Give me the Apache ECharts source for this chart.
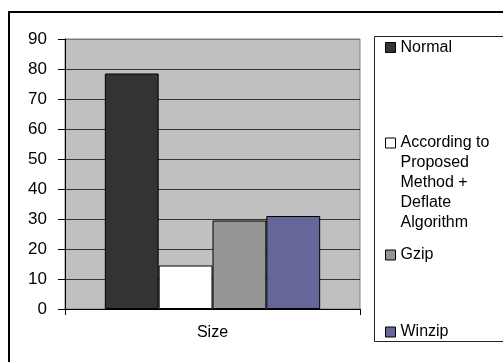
<!DOCTYPE html>
<html>
<head>
<meta charset="utf-8">
<script src="https://cdn.jsdelivr.net/npm/echarts@6/dist/echarts.min.js"></script>
<style>
  html, body { margin: 0; padding: 0; background: #fff; }
  #chart { width: 503px; height: 362px; }
</style>
</head>
<body>
<div id="chart"></div>
<script>
// Compressed size per method
const categories = ['Size'];
const seriesNames = ['Normal', 'According to Proposed Method + Deflate Algorithm', 'Gzip', 'Winzip'];
const sizeValues = [78.5, 14.5, 29.5, 31];
const seriesColors = ['#333333', '#ffffff', '#969696', '#666699'];
// leading blank lines keep the swatch beside the first line of a wrapped label
const legendLabels = ['Normal', '\n\n\n\nAccording to\nProposed\nMethod +\nDeflate\nAlgorithm', 'Gzip', 'Winzip'];
const yMin = 0, yMax = 90, yStep = 10;

const FONT = 'Arial, "Liberation Sans", sans-serif';
const chart = echarts.init(document.getElementById('chart'), null, { renderer: 'canvas' });

// one legend block per entry so each can sit at its own height
const legendTops = [37.5, 53, 245, 322];
const legends = seriesNames.map((name, i) => ({
  data: [name],
  orient: 'vertical',
  left: 385,
  top: legendTops[i],
  padding: 0,
  itemWidth: 10,
  itemHeight: 10,
  icon: 'rect',
  selectedMode: false,
  itemStyle: { borderColor: '#000', borderWidth: 1 },
  formatter: () => legendLabels[i],
  textStyle: {
    fontFamily: FONT,
    fontSize: 16,
    color: '#000',
    lineHeight: 20
  }
}));

const splitColors = [];
for (let v = yMin; v <= yMax; v += yStep) splitColors.push(v === yMax ? '#7a7a7a' : '#333333');

chart.setOption({
  animation: false,
  backgroundColor: '#ffffff',
  graphic: [
    { type: 'rect', shape: { x: 9, y: 12, width: 620, height: 420 },
      style: { fill: null, stroke: '#000', lineWidth: 2 }, z: 100 },
    { type: 'rect', shape: { x: 374.5, y: 36.5, width: 200, height: 305 },
      style: { fill: null, stroke: '#222', lineWidth: 1 }, z: 100 }
  ],
  legend: legends,
  grid: {
    left: 65, top: 39, right: 143, bottom: 53,
    show: true, backgroundColor: '#c0c0c0', borderColor: '#808080', borderWidth: 1,
    containLabel: false
  },
  xAxis: {
    type: 'category',
    data: categories,
    boundaryGap: true,
    axisLine: { lineStyle: { color: '#000', width: 1 } },
    axisTick: { show: true, length: 6, lineStyle: { color: '#000' } },
    axisLabel: { fontFamily: FONT, fontSize: 16, color: '#000', margin: 16 }
  },
  yAxis: {
    type: 'value',
    min: yMin, max: yMax, interval: yStep,
    axisLine: { show: true, lineStyle: { color: '#000', width: 1 } },
    axisTick: { show: true, length: 7, lineStyle: { color: '#000' } },
    axisLabel: { fontFamily: FONT, fontSize: 17, color: '#000', margin: 18 },
    splitLine: { show: true, lineStyle: { color: splitColors, width: 1 } }
  },
  series: seriesNames.map((name, i) => ({
    name: name,
    type: 'bar',
    data: [sizeValues[i]],
    barGap: '0%',
    barCategoryGap: '27%',
    itemStyle: { color: seriesColors[i], borderColor: '#000', borderWidth: 1 }
  }))
});
</script>
</body>
</html>
